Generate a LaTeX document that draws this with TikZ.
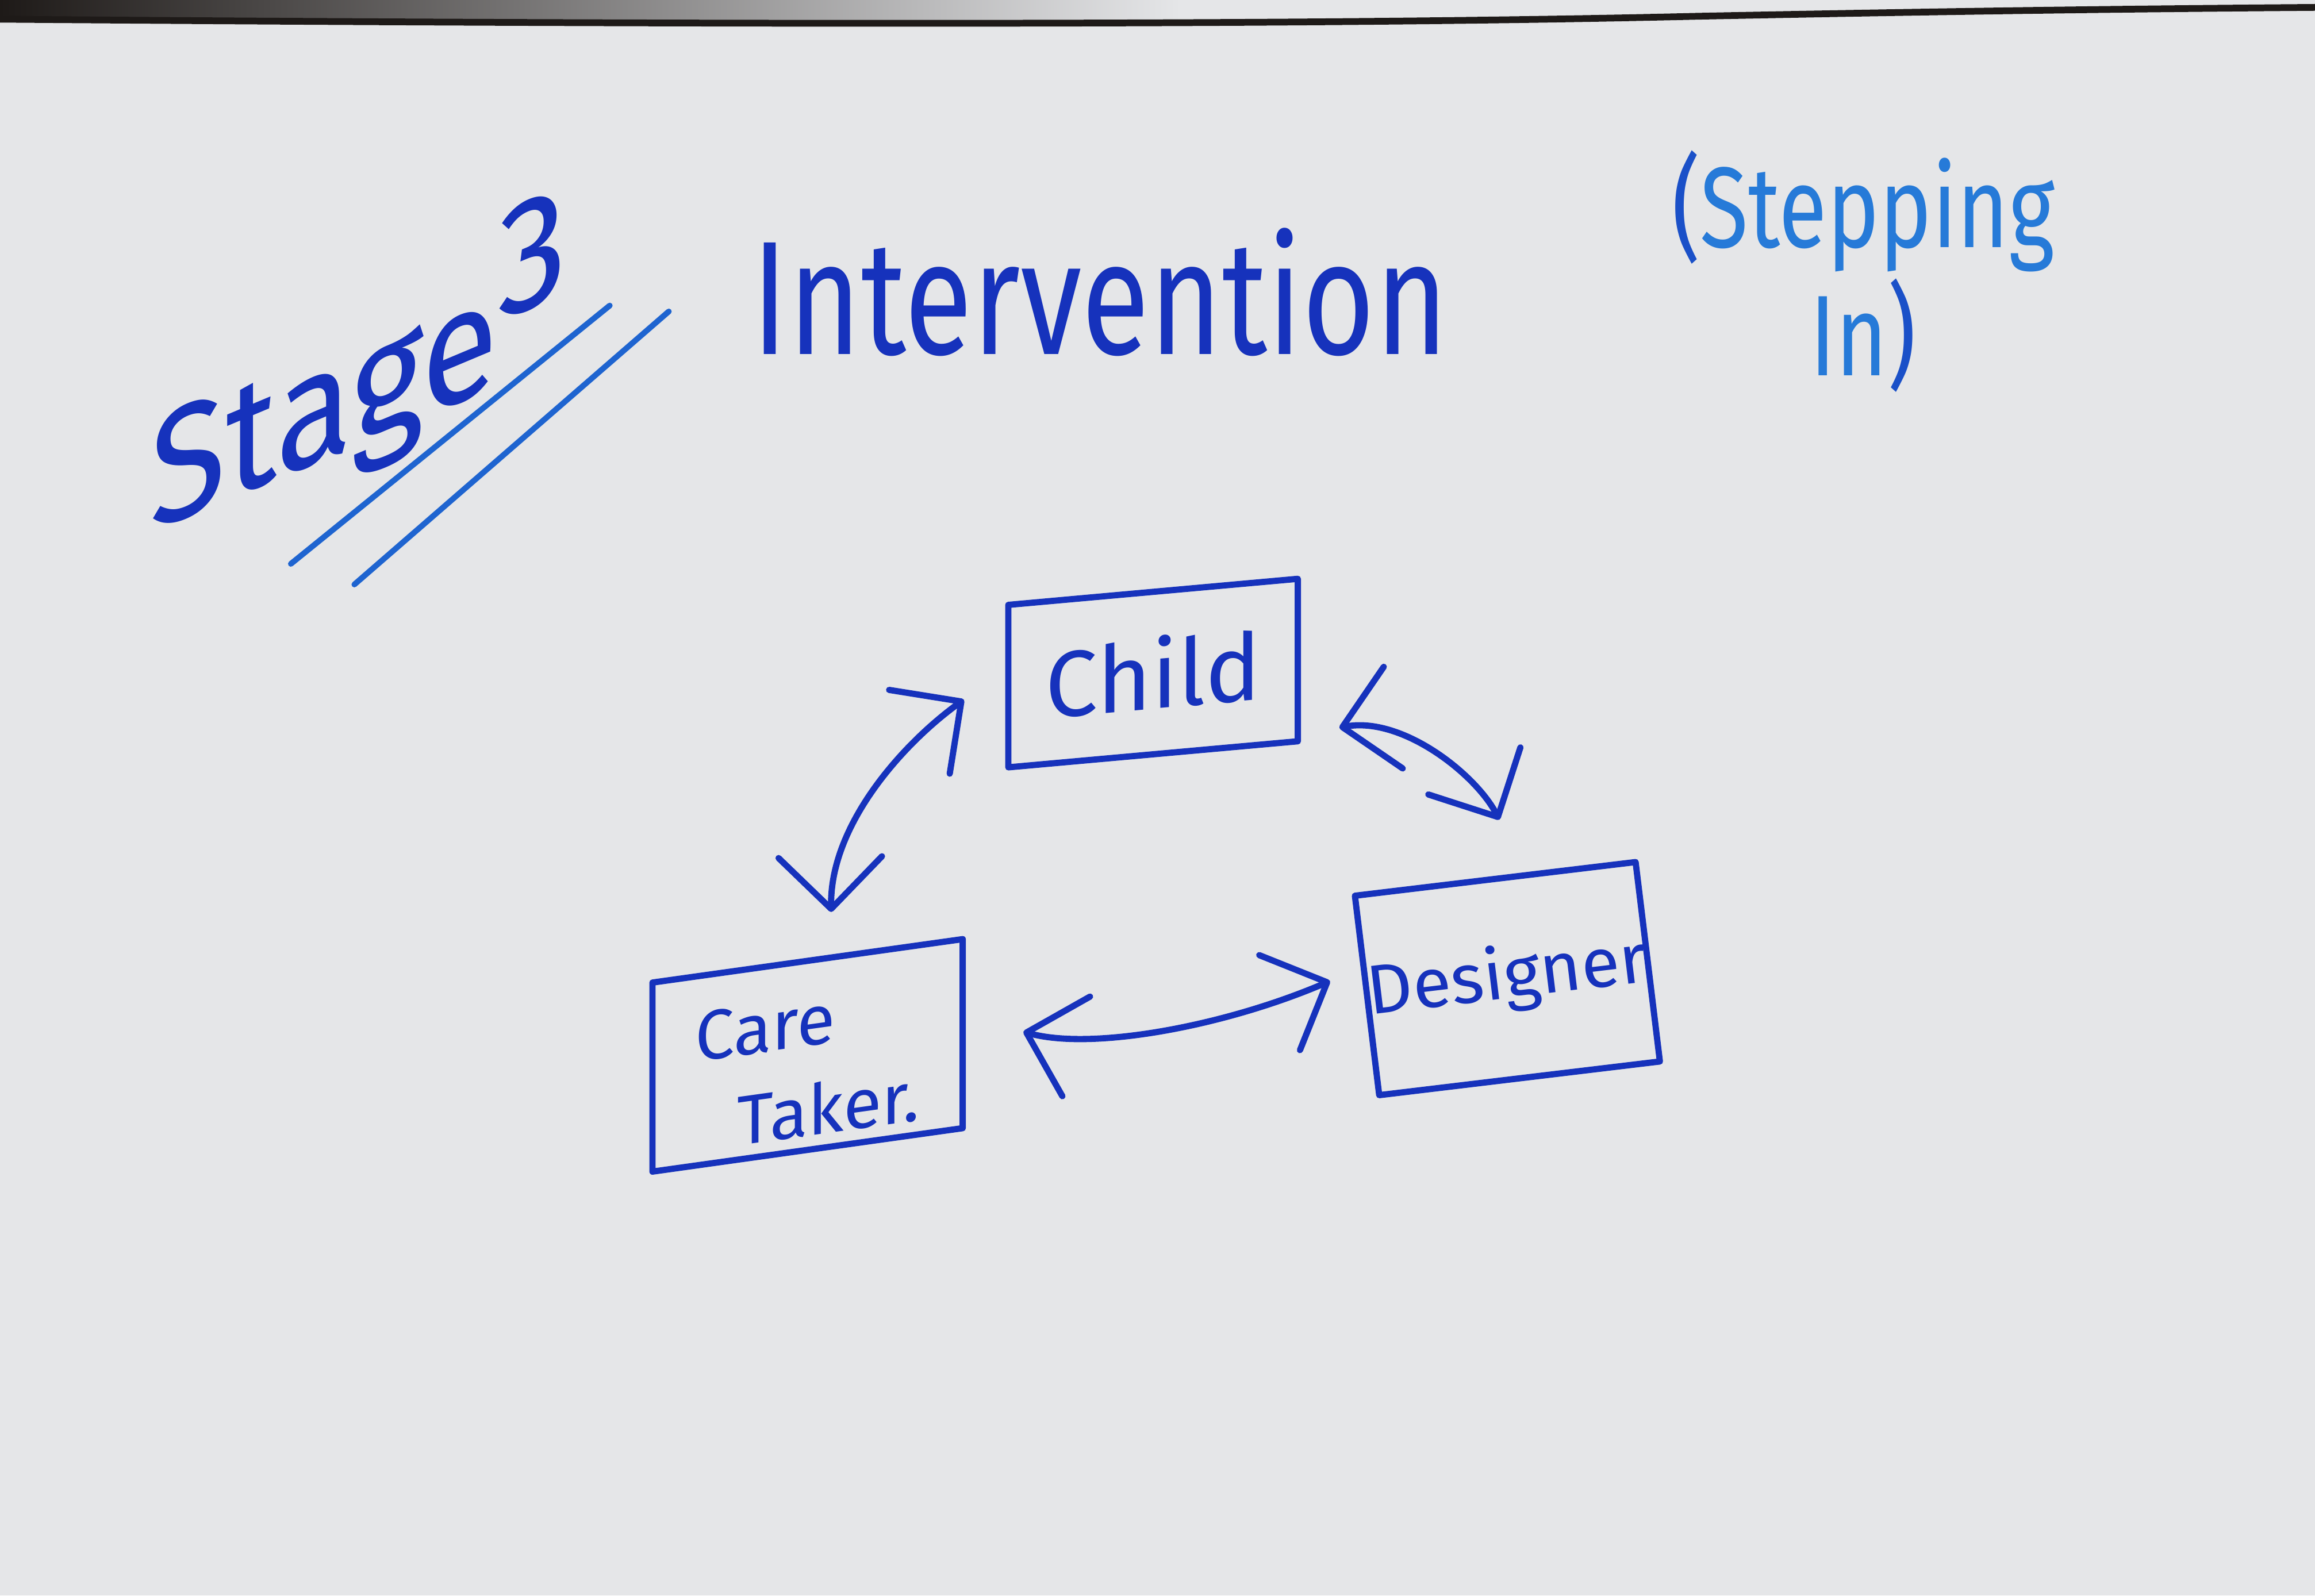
\documentclass[tikz,border=0pt]{standalone}
\usepackage{fontspec}
\setmainfont{Fira Sans}
\usetikzlibrary{arrows.meta,calc}
\definecolor{bg}{RGB}{229,230,232}
\definecolor{ink}{RGB}{22,50,188}
\definecolor{inklight}{RGB}{38,122,216}
\definecolor{inkmid}{RGB}{30,100,208}
\definecolor{inkparen}{RGB}{26,80,200}
\definecolor{edge}{RGB}{30,26,24}
\begin{document}
\begin{tikzpicture}[x=0.01cm,y=-0.01cm,
  box/.style={draw=ink, line width=1.2pt, line join=round, inner sep=0pt, text=ink},
  conn/.style={draw=ink, line width=1.2pt, line cap=round,
    {Straight Barb[length=3.5mm,width=7mm,round]}-{Straight Barb[length=3.5mm,width=7mm,round]}},
  lbl/.style={text=ink, inner sep=0pt},
  underline/.style={draw=inkmid, line width=1.1pt, line cap=round}]
\fill[bg] (0,0) rectangle (1568,1081);
\useasboundingbox (0,0) rectangle (1568,1081);
% whiteboard top edge
\shade[left color=edge, right color=bg] (0,0) -- (0,13) .. controls (300,15) and (600,16) .. (800,15) -- (800,0) -- cycle;
\draw[edge, line width=1.3pt] (0,13) .. controls (500,17) and (900,17) .. (1150,11) .. controls (1350,7) and (1450,6) .. (1568,5);

% headings
\node[lbl, yslant=0.42, yscale=1.15, font=\fontsize{27}{29}\selectfont] (stage) at (243,254) {Stage\raisebox{0.4em}{3}};
\draw[underline] (197,382) -- (413,207);
\draw[underline] (240,396) -- (453,211);
\node[lbl, yscale=1.3, font=\fontsize{24}{28}\selectfont] (title) at (745,198) {Intervention};
\node[text=inklight, inner sep=0pt, align=center, yscale=1.3, font=\fontsize{17}{19}\selectfont] (stepping) at (1262,184)
  {{\color{inkparen}(}Stepping\\In{\color{inkparen})}};

% boxes
\node[box, yslant=0.09, minimum width=1.96cm, minimum height=1.1cm,
  font=\fontsize{18}{20}\selectfont] (child) at (781,456) {Child};
\node[box, yslant=0.14, minimum width=2.1cm, minimum height=1.28cm,
  font=\fontsize{13.5}{14}\selectfont] (care) at (547,715)
  {\raisebox{-0.27cm}[0pt][0pt]{\begin{tabular}{@{}l@{}}Care\\[3pt]\hspace{0.6em}Taker.\end{tabular}}};
\node[box, yslant=0.12, xslant=-0.12, minimum width=1.9cm, minimum height=1.37cm,
  font=\fontsize{13.5}{15}\selectfont] (designer) at (1021,663) {Designer};

% connectors
\draw[conn] ($(child.west)+(-28,9)$) .. controls (610,505) and (562,560) .. ($(care.north)+(16,-31)$);
\draw[conn] ($(child.east)+(26,46)$) .. controls (950,485) and (1000,525) .. ($(designer.north)+(3,-38)$);
\draw[conn] ($(care.east)+(39,-1)$) .. controls (740,712) and (830,695) .. ($(designer.west)+(-23,-10)$);
\end{tikzpicture}
\end{document}
